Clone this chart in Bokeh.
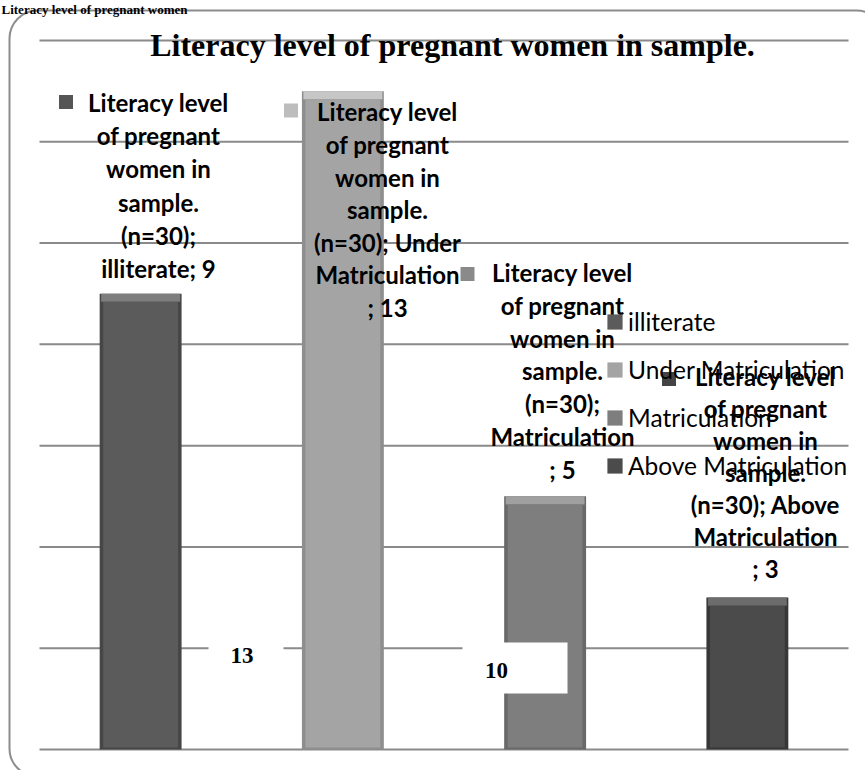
from bokeh.plotting import figure
from bokeh.models import (ColumnDataSource, Range1d, Label, BoxAnnotation, Legend, LegendItem)
from bokeh.embed import file_html
from bokeh.resources import INLINE

# ---------------- data ----------------
categories = ["illiterate", "Under Matriculation", "Matriculation", "Above Matriculation"]
counts = [9, 13, 5, 3]
chart_title = "Literacy level of pregnant women in sample."
caption = "Literacy level of pregnant women"
y_ticks = [0, 2, 4, 6, 8, 10, 12, 14]
stray_numbers = ["13", "10"]

face_colors = ["#5b5b5b", "#a4a4a4", "#7e7e7e", "#4b4b4b"]
edge_colors = ["#464646", "#8e8e8e", "#696969", "#373737"]
top_colors = ["#7e7e7e", "#c6c6c6", "#a0a0a0", "#6c6c6c"]
key_colors = ["#555555", "#bdbdbd", "#8a8a8a", "#444444"]

label_texts = [
    "Literacy level\nof pregnant\nwomen in\nsample.\n(n=30);\n%s; %d" % (categories[0], counts[0]),
    "Literacy level\nof pregnant\nwomen in\nsample.\n(n=30); Under\nMatriculation\n; %d" % counts[1],
    "Literacy level\nof pregnant\nwomen in\nsample.\n(n=30);\nMatriculation\n; %d" % counts[2],
    "Literacy level\nof pregnant\nwomen in\nsample.\n(n=30); Above\nMatriculation\n; %d" % counts[3],
]

# ---------------- geometry helpers (pixel -> data) ----------------
W, H = 865, 770
FL, FR, FT, FB = 39, 848, 40, 749      # extent of the category bands / value axis in pixels
YMAX = y_ticks[-1]
PXU = (FR - FL) / len(categories)
PYU = (FB - FT) / YMAX


def dx(px):
    return (px - FL) / PXU


def dy(py):
    return (FB - py) / PYU


p = figure(width=W, height=H, x_range=Range1d(dx(0), dx(W)), y_range=Range1d(dy(H), dy(0)),
           output_backend="svg", toolbar_location=None,
           x_axis_location=None, y_axis_location=None,
           min_border=0, outline_line_color=None,
           background_fill_color="white", border_fill_color="white")
p.grid.visible = False

xpos = [i + 0.5 for i in range(len(categories))]

# rounded frame
p.add_layout(BoxAnnotation(left=dx(9), right=dx(884), top=dy(10), bottom=dy(776),
                           fill_alpha=0, line_color="#8c8c8c", line_alpha=1, line_width=2,
                           border_radius=28, level="underlay"))

# horizontal gridlines across the category bands
p.segment(x0=[0] * len(y_ticks), x1=[len(categories)] * len(y_ticks), y0=y_ticks, y1=y_ticks,
          line_color="#8a8a8a", line_width=2)

src = ColumnDataSource(dict(x=xpos, cat=categories, val=counts, face=face_colors, edge=edge_colors,
                            topc=top_colors, bev=[v - 0.16 for v in counts]))

p.vbar(x="x", top="val", bottom=0, width=0.405, source=src, fill_color="edge", line_color=None)
p.vbar(x="x", top="val", bottom="bev", width=0.39, source=src, fill_color="topc", line_color=None)
face = p.vbar(x="x", top="bev", bottom=0.04, width=0.37, source=src, fill_color="face", line_color=None)

# white boxes covering parts of the chart
p.add_layout(BoxAnnotation(left=dx(208), right=dx(283), top=dy(628), bottom=dy(682),
                           fill_color="white", fill_alpha=1, line_color=None, level="overlay"))
p.add_layout(BoxAnnotation(left=dx(462), right=dx(567), top=dy(642), bottom=dy(693),
                           fill_color="white", fill_alpha=1, line_color=None, level="overlay"))
for s, (cx, cy) in zip(stray_numbers, [(241.5, 655), (496, 670)]):
    p.add_layout(Label(x=dx(cx), y=dy(cy), text=s, text_font="Liberation Serif",
                       text_font_style="bold", text_font_size="23px", text_align="center",
                       text_baseline="middle", text_color="black", level="overlay"))

# data labels
label_pos = [(158, 103, 32.8), (387, 112, 32.4), (562, 273, 32.5), (765, 377, 31.8)]
key_pos = [(65.5, 101.5), (290.5, 110), (467, 273.5), (668.5, 378.5)]
fs = 24
for txt, (cx, y1, pitch) in zip(label_texts, label_pos):
    n = txt.count("\n") + 1
    p.add_layout(Label(x=dx(cx), y=dy(y1 + (n - 1) * pitch / 2), text=txt, text_font="Lato",
                       text_font_style="bold", text_font_size="%dpx" % fs, text_align="center",
                       text_baseline="middle", text_line_height=pitch / (fs * 1.2),
                       text_color="black"))
p.scatter(x=[dx(k[0]) for k in key_pos], y=[dy(k[1]) for k in key_pos], marker="square",
          size=14, fill_color=key_colors, line_color=None)

# legend
legend = Legend(items=[LegendItem(label=c, renderers=[face], index=i) for i, c in enumerate(categories)],
                location=(605, 290), padding=0, margin=0, spacing=18, label_height=30,
                glyph_height=19, glyph_width=19, label_standoff=4,
                label_text_font="Lato", label_text_font_size="24.5px", label_text_color="black",
                border_line_color=None, background_fill_alpha=0)
p.add_layout(legend)

# title and caption
p.add_layout(Label(x=dx(452), y=dy(44), text=chart_title, text_font="Liberation Serif",
                   text_font_style="bold", text_font_size="32px", text_align="center",
                   text_baseline="alphabetic", text_color="black"))
p.add_layout(Label(x=dx(1), y=dy(9), text=caption, text_font="Liberation Serif",
                   text_font_style="bold", text_font_size="13px", text_align="left",
                   text_baseline="alphabetic", text_color="black"))

open("out.html", "w").write(file_html(p, INLINE))
